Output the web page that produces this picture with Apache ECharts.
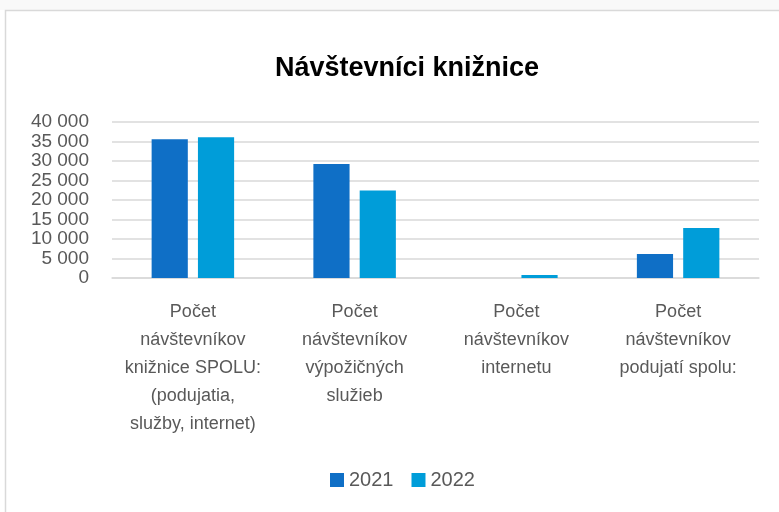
<!DOCTYPE html>
<html>
<head>
<meta charset="utf-8">
<script src="https://cdn.jsdelivr.net/npm/echarts@6/dist/echarts.min.js"></script>
<style>
  html, body { margin: 0; padding: 0; background: #fff; }
  #main { width: 779px; height: 512px; }
</style>
</head>
<body>
<div id="main"></div>
<script>
const categories = [
  'Počet\nnávštevníkov\nknižnice SPOLU:\n(podujatia,\nslužby, internet)',
  'Počet\nnávštevníkov\nvýpožičných\nslužieb',
  'Počet\nnávštevníkov\ninternetu',
  'Počet\nnávštevníkov\npodujatí spolu:'
];
const years = ['2021', '2022'];
const values2021 = [35600, 29200, 0, 6150];
const values2022 = [36100, 22450, 780, 12800];

const chart = echarts.init(document.getElementById('main'));
const labelColor = '#595959';
const font = 'Liberation Sans, Arial, sans-serif';

chart.setOption({
  backgroundColor: '#fff',
  animation: false,
  graphic: [
    { type: 'rect', shape: { x: 0, y: 0, width: 779, height: 10 }, style: { fill: '#f9f9f9' }, silent: true },
    { type: 'rect', shape: { x: 5.5, y: 10.5, width: 800, height: 600 }, style: { fill: 'none', stroke: '#d9d9d9', lineWidth: 1.5 }, silent: true }
  ],
  title: {
    text: 'Návštevníci knižnice',
    left: 270,
    top: 50,
    textStyle: { fontFamily: font, fontSize: 27, fontWeight: 'bold', color: '#000' }
  },
  legend: {
    data: years,
    bottom: 17,
    left: 325,
    itemWidth: 14,
    itemHeight: 14,
    itemGap: 18,
    icon: 'rect',
    textStyle: { fontFamily: font, fontSize: 20, color: labelColor }
  },
  grid: { left: 112, right: 20, top: 122, bottom: 234 },
  xAxis: {
    type: 'category',
    data: categories,
    axisLine: { lineStyle: { color: '#d9d9d9', width: 1.5 } },
    axisTick: { show: false },
    axisLabel: {
      interval: 0,
      margin: 20,
      fontFamily: font,
      fontSize: 18,
      lineHeight: 28,
      color: labelColor
    }
  },
  yAxis: {
    type: 'value',
    min: 0,
    max: 40000,
    interval: 5000,
    axisLine: { show: false },
    axisTick: { show: false },
    splitLine: { lineStyle: { color: '#d9d9d9', width: 1.5 } },
    axisLabel: {
      margin: 23,
      interval: 0,
      hideOverlap: false,
      showMinLabel: true,
      showMaxLabel: true,
      fontFamily: font,
      fontSize: 19,
      lineHeight: 16,
      color: labelColor,
      formatter: v => String(v).replace(/\B(?=(\d{3})+(?!\d))/g, ' ')
    }
  },
  series: [
    {
      name: years[0],
      type: 'bar',
      data: values2021,
      barGap: '28%',
      barCategoryGap: '49%',
      itemStyle: { color: '#0f6fc6' }
    },
    {
      name: years[1],
      type: 'bar',
      data: values2022,
      barGap: '28%',
      barCategoryGap: '49%',
      itemStyle: { color: '#009dd9' }
    }
  ]
});
</script>
</body>
</html>
